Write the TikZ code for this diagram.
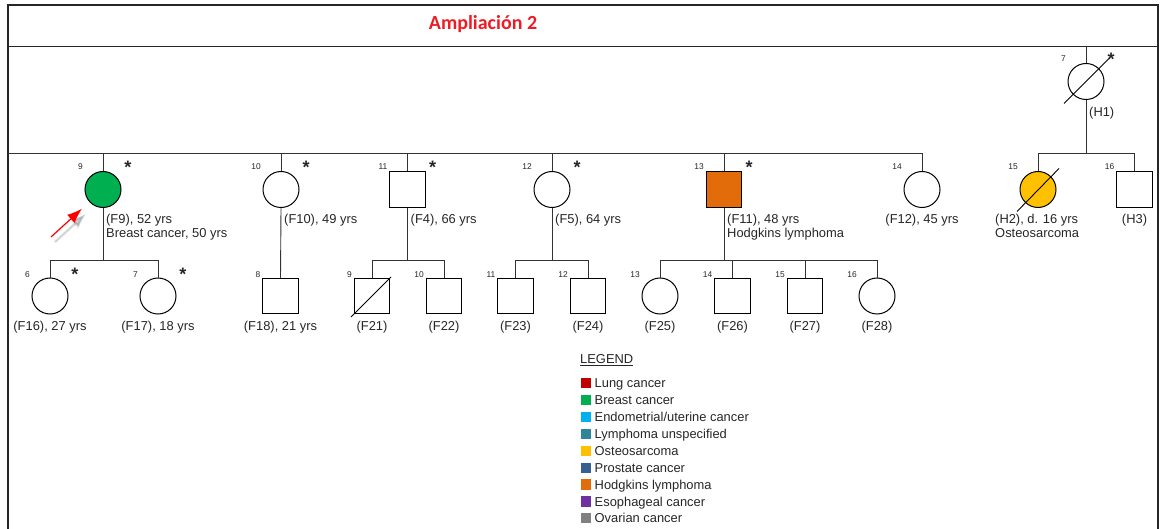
\documentclass[tikz,border=0pt]{standalone}
\usepackage{fontspec}
\setmainfont{Liberation Sans}
\newfontfamily\titlefont{Carlito}
\usetikzlibrary{arrows.meta}
\definecolor{lungc}{RGB}{192,0,0}
\definecolor{breastc}{RGB}{0,176,80}
\definecolor{endoc}{RGB}{0,176,240}
\definecolor{lymphc}{RGB}{49,133,155}
\definecolor{osteoc}{RGB}{255,192,0}
\definecolor{prostc}{RGB}{54,96,146}
\definecolor{hodgc}{RGB}{227,108,10}
\definecolor{esophc}{RGB}{112,48,160}
\definecolor{ovarc}{RGB}{128,128,128}
\definecolor{titlered}{RGB}{237,28,36}
\begin{document}
\begin{tikzpicture}[x=1pt,y=-1pt,
  fem/.style={circle,draw=black,line width=1pt,minimum size=36pt,inner sep=0pt},
  mal/.style={rectangle,draw=black,line width=1pt,minimum size=35.5pt,inner sep=0pt},
  pline/.style={draw=black!80,line width=0.9pt},
  frame/.style={draw=black!85,line width=1.3pt},
  dead/.style={draw=black,line width=0.9pt},
  lbl/.style={font=\fontsize{12.9}{14}\selectfont,inner sep=0pt,text=black!85},
  num/.style={font=\fontsize{8.4}{9}\selectfont,inner sep=0pt,anchor=base east,text=black!85},
  star/.style={font=\bfseries\fontsize{18}{18}\selectfont,inner sep=0pt,anchor=base,text=black!85},
  legsq/.style={rectangle,draw=none,minimum size=10.3pt,inner sep=0pt},
  ttl/.style={font=\titlefont\bfseries\fontsize{20}{24}\selectfont,text=titlered,inner sep=0pt}
]
\useasboundingbox (0,0) rectangle (1161,529);
% frame
\draw[frame] (8,530) -- (8,5) -- (1158,5) -- (1158,530);
\draw[frame] (8,46.7) -- (1158,46.7);
\node[ttl] (title) at (483,24.5) {Ampliación 2};

% generation line coordinates
\coordinate (hdr) at (1086,46.7);
\coordinate (g2) at (8,153);
\coordinate (g2end) at (922,153);
\coordinate (s3) at (0,260);

% Generation I
\node[fem] (H1) at (1086,81.5) {};
\draw[dead] ([shift={(-22,22)}]H1.center) -- ([shift={(23,-23)}]H1.center);
\node[num] (nH1) at (1066,62) {7};
\node[star] (sH1) at (1111,66) {*};
\node[lbl,anchor=base west] (lH1) at (1089,116.6) {(H1)};
\draw[pline] (hdr) -- (H1.north);

% Generation II
\node[fem,fill=breastc] (F9) at (103,189.5) {};
\node[fem] (F10) at (281,189.5) {};
\node[mal] (F4) at (407.5,189.5) {};
\node[fem] (F5) at (552,189.5) {};
\node[mal,fill=hodgc] (F11) at (724,189.5) {};
\node[fem] (F12) at (922,189.5) {};
\node[fem,fill=osteoc] (H2) at (1038,189.5) {};
\node[mal] (H3) at (1134.5,189.5) {};
\draw[dead] ([shift={(-21,22)}]H2.center) -- ([shift={(21,-21)}]H2.center);

\draw[pline] (g2) -- (g2end);
\foreach \n in {F9,F10,F4,F5,F11,F12} {\draw[pline] (\n.north) -- (\n.north |- g2);}
\draw[pline] (H1.south) -- (H1.south |- g2);
\draw[pline] (H2.north) -- (H2.north |- g2) -- (H3.north |- g2) -- (H3.north);

% numbers gen II
\node[num] (nF9) at (83,170) {9};
\node[num] (nF10) at (261,170) {10};
\node[num] (nF4) at (387.5,170) {11};
\node[num] (nF5) at (532,170) {12};
\node[num] (nF11) at (704,170) {13};
\node[num] (nF12) at (902,170) {14};
\node[num] (nH2) at (1018,170) {15};
\node[num] (nH3) at (1114.5,170) {16};
% stars gen II
\foreach \n/\x in {F9/128,F10/306,F4/432.5,F5/577,F11/749} {\node[star] (s\n) at (\x,174) {*};}

% labels gen II
\node[lbl,anchor=base west,align=left] (lF9) at (106,237.5) {(F9), 52 yrs\\Breast cancer, 50 yrs};
\node[lbl,anchor=base west] (lF10) at (284,223.5) {(F10), 49 yrs};
\node[lbl,anchor=base west] (lF4) at (410.5,223.5) {(F4), 66 yrs};
\node[lbl,anchor=base west] (lF5) at (555,223.5) {(F5), 64 yrs};
\node[lbl,anchor=base west,align=left] (lF11) at (727,237.5) {(F11), 48 yrs\\Hodgkins lymphoma};
\node[lbl,anchor=base] (lF12) at (922,223.5) {(F12), 45 yrs};
\node[lbl,anchor=base west,align=left] (lH2) at (995,237.5) {(H2), d. 16 yrs\\Osteosarcoma};
\node[lbl,anchor=base] (lH3) at (1134.5,223.5) {(H3)};

% Generation III
\node[fem] (F16) at (50,296) {};
\node[fem] (F17) at (158,296) {};
\node[mal] (F18) at (280.5,296) {};
\node[mal] (F21) at (372,296) {};
\node[mal] (F22) at (444,296) {};
\node[mal] (F23) at (515.5,296) {};
\node[mal] (F24) at (588,296) {};
\node[fem] (F25) at (660,296) {};
\node[mal] (F26) at (732.5,296) {};
\node[mal] (F27) at (805,296) {};
\node[fem] (F28) at (877,296) {};
\draw[dead] ([shift={(-21,21)}]F21.center) -- ([shift={(19,-19)}]F21.center);

% descent lines
\draw[pline] (F9.south) -- (F9.south |- s3);
\draw[pline] (F16.north) -- (F16.north |- s3) -- (F17.north |- s3) -- (F17.north);
\draw[pline] (F10.south) -- (F18.north);
\draw[pline] (F4.south) -- (F4.south |- s3);
\draw[pline] (F21.north) -- (F21.north |- s3) -- (F22.north |- s3) -- (F22.north);
\draw[pline] (F5.south) -- (F5.south |- s3);
\draw[pline] (F23.north) -- (F23.north |- s3) -- (F24.north |- s3) -- (F24.north);
\draw[pline] (F11.south) -- (F11.south |- s3);
\draw[pline] (F25.north) -- (F25.north |- s3) -- (F28.north |- s3) -- (F28.north);
\draw[pline] (F26.north) -- (F26.north |- s3);
\draw[pline] (F27.north) -- (F27.north |- s3);

% numbers gen III
\node[num] (nF16) at (30,277) {6};
\node[num] (nF17) at (138,277) {7};
\node[num] (nF18) at (260.5,277) {8};
\node[num] (nF21) at (352,277) {9};
\node[num] (nF22) at (424,277) {10};
\node[num] (nF23) at (495.5,277) {11};
\node[num] (nF24) at (568,277) {12};
\node[num] (nF25) at (640,277) {13};
\node[num] (nF26) at (712.5,277) {14};
\node[num] (nF27) at (785,277) {15};
\node[num] (nF28) at (857,277) {16};
\node[star] (sF16) at (75,280.5) {*};
\node[star] (sF17) at (183,280.5) {*};

% labels gen III
\node[lbl,anchor=base] (lF16) at (50,330.3) {(F16), 27 yrs};
\node[lbl,anchor=base] (lF17) at (158,330.3) {(F17), 18 yrs};
\node[lbl,anchor=base] (lF18) at (280.5,330.3) {(F18), 21 yrs};
\foreach \n in {F21,F22,F23,F24,F25,F26,F27,F28} {\node[lbl,anchor=base] (l\n) at ([yshift=-34.3pt]\n.center) {(\n)};}

% red arrow with soft shadow
\coordinate (arrT) at (51,237);
\begin{scope}[transform canvas={shift={(4pt,-5pt)}}]
\draw[-{Latex[length=17pt,width=13pt]},line width=3pt,black,opacity=0.06,shorten >=9pt] (arrT) -- (F9);
\draw[-{Latex[length=15pt,width=11pt]},line width=2pt,black,opacity=0.07,shorten >=10pt] (arrT) -- (F9);
\draw[-{Latex[length=13pt,width=9pt]},line width=1pt,black,opacity=0.07,shorten >=11pt] (arrT) -- (F9);
\end{scope}
\draw[-{Latex[length=15pt,width=11pt]},line width=1.2pt,red,shorten >=10pt] (arrT) -- (F9);

% legend
\node[lbl,anchor=base west] (legT) at (580,363.9) {\underline{LEGEND}};
\foreach \i/\c/\t in {1/lungc/Lung cancer,2/breastc/Breast cancer,3/endoc/Endometrial\slash uterine cancer,4/lymphc/Lymphoma unspecified,5/osteoc/Osteosarcoma,6/prostc/Prostate cancer,7/hodgc/Hodgkins lymphoma,8/esophc/Esophageal cancer,9/ovarc/Ovarian cancer} {
  \node[legsq,fill=\c] (k\i) at (585.8,{383.3+(\i-1)*16.875}) {};
  \node[lbl,anchor=base west] (t\i) at (594.5,{387.9+(\i-1)*16.875}) {\t};
}
\end{tikzpicture}
\end{document}
